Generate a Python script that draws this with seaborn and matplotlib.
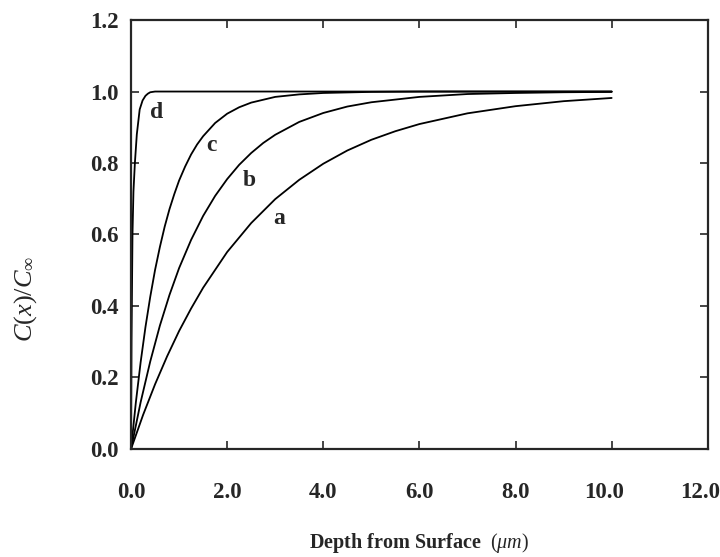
import numpy as np
import pandas as pd
import seaborn as sns
import matplotlib
matplotlib.use("Agg")
import matplotlib.pyplot as plt
from matplotlib.transforms import ScaledTranslation

# values
depth_a = [0, 0.25, 0.5, 0.75, 1.0, 1.25, 1.5, 2.0, 2.5, 3.0, 3.5, 4.0, 4.5, 5.0, 5.5, 6.0, 7.0, 8.0, 9.0, 10.0]
conc_a = [0, 0.095, 0.181, 0.259, 0.330, 0.393, 0.451, 0.551, 0.632, 0.699, 0.753, 0.798, 0.835, 0.865,
          0.889, 0.909, 0.939, 0.959, 0.973, 0.982]

depth_b = [0, 0.2, 0.4, 0.6, 0.8, 1.0, 1.25, 1.5, 1.75, 2.0, 2.25, 2.5, 2.75, 3.0, 3.5, 4.0, 4.5, 5.0,
           6.0, 7.0, 8.0, 9.0, 10.0]
conc_b = [0, 0.131, 0.245, 0.345, 0.431, 0.506, 0.585, 0.652, 0.708, 0.755, 0.795, 0.828, 0.856, 0.879,
          0.915, 0.940, 0.958, 0.970, 0.985, 0.993, 0.996, 0.998, 0.999]

depth_c = [0, 0.1, 0.2, 0.3, 0.4, 0.5, 0.6, 0.7, 0.8, 0.9, 1.0, 1.125, 1.25, 1.375, 1.5, 1.75, 2.0, 2.25,
           2.5, 3.0, 3.5, 4.0, 5.0, 6.0, 8.0, 10.0]
conc_c = [0, 0.130, 0.243, 0.341, 0.426, 0.501, 0.565, 0.622, 0.671, 0.713, 0.751, 0.790, 0.824, 0.852,
          0.875, 0.912, 0.938, 0.956, 0.969, 0.985, 0.992, 0.996, 0.999, 1.0, 1.0, 1.0]

depth_d = [0, 0.01, 0.03, 0.05, 0.08, 0.12, 0.18, 0.24, 0.3, 0.35, 0.4, 0.5, 1.0, 4.0, 10.0]
conc_d = [0, 0.30, 0.60, 0.72, 0.80, 0.88, 0.95, 0.975, 0.988, 0.994, 0.998, 1.0, 1.0, 1.0, 1.0]

curve_names = ["a", "b", "c", "d"]
label_x = [3.08, 2.47, 1.68, 0.54]
label_y = [0.645, 0.75, 0.85, 0.94]

x_ticks = [0, 2, 4, 6, 8, 10, 12]
y_ticks = [0, 0.2, 0.4, 0.6, 0.8, 1.0, 1.2]

sns.set_style("ticks")
plt.rcParams["font.family"] = ["Liberation Serif", "DejaVu Serif"]
plt.rcParams["mathtext.fontset"] = "custom"
plt.rcParams["mathtext.rm"] = "Liberation Serif"
plt.rcParams["mathtext.it"] = "Liberation Serif:italic"
plt.rcParams["mathtext.bf"] = "Liberation Serif:bold"

fig, ax = plt.subplots(figsize=(7.2, 5.57), dpi=100)
fig.subplots_adjust(left=0.182, right=0.983, top=0.964, bottom=0.194)

curves = [(depth_a, conc_a), (depth_b, conc_b), (depth_c, conc_c), (depth_d, conc_d)]
for name, (xs, ys) in zip(curve_names, curves):
    df = pd.DataFrame({"depth": xs, "conc": ys})
    sns.lineplot(data=df, x="depth", y="conc", color="black", lw=1.3,
                 estimator=None, sort=False, ax=ax)

for name, lx, ly in zip(curve_names, label_x, label_y):
    ax.text(lx, ly, name, fontsize=17, fontweight="bold", ha="center", va="center")

ax.set_xlim(0, 12)
ax.set_ylim(0, 1.2)
ax.set_xticks(x_ticks)
ax.set_yticks(y_ticks)
ax.set_xticklabels([f"{v:.1f}" for v in x_ticks])
ax.set_yticklabels([f"{v:.1f}" for v in y_ticks])

ax.tick_params(direction="in", length=6, width=1.2, top=True, right=True,
               labelsize=16.5)
ax.tick_params(axis="x", pad=24)
ax.tick_params(axis="y", pad=9)
for lab in ax.get_xticklabels() + ax.get_yticklabels():
    lab.set_fontweight("bold")

# labels are lined up on the decimal point, so the two-digit ones sit a bit left
shift = ScaledTranslation(-0.08, 0, fig.dpi_scale_trans)
for lab in ax.get_xticklabels()[-2:]:
    lab.set_transform(lab.get_transform() + shift)

for sp in ax.spines.values():
    sp.set_linewidth(1.6)
    sp.set_visible(True)

ax.set_xlabel(r"Depth from Surface  $(\mu m)$", fontsize=14.5, fontweight="bold", labelpad=20)
ax.set_ylabel(r"$C(x)/C_{\infty}$", fontsize=19)
ax.yaxis.set_label_coords(-0.16, 0.35)

fig.savefig("out.png", dpi=100)
